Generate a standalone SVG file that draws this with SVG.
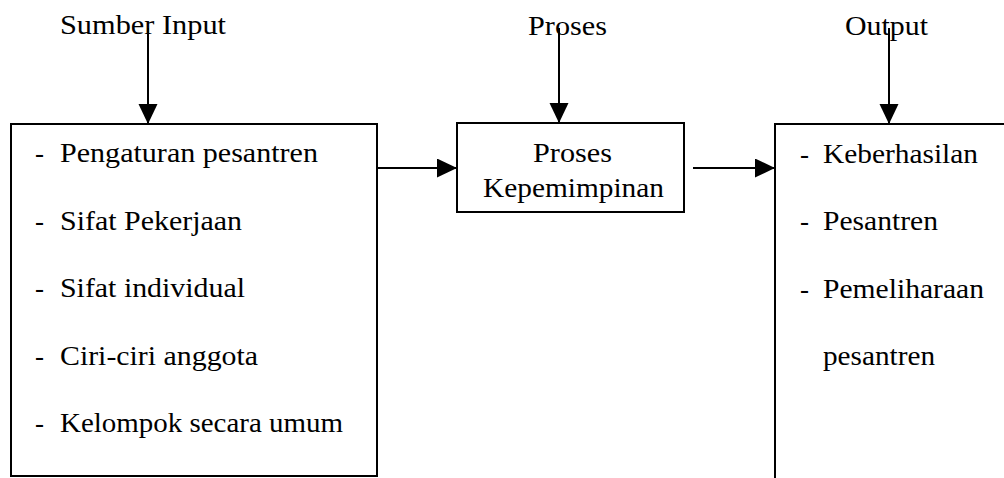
<svg xmlns="http://www.w3.org/2000/svg" width="1004" height="478" viewBox="0 0 1004 478">
  <style>
    .t { font-family: "Liberation Serif", "Times New Roman", serif; font-size: 27px; fill: #000; }
    .box { fill: #fff; stroke: #000; stroke-width: 2; }
    .edge { fill: none; stroke: #000; stroke-width: 2; }
  </style>
  <defs>
    <marker id="ah" markerUnits="userSpaceOnUse" markerWidth="20" markerHeight="20" refX="20" refY="9.5" orient="auto">
      <path d="M0,0 L20,9.5 L0,19 Z" fill="#000"/>
    </marker>
  </defs>
  <rect width="1004" height="478" fill="#fff"/>

  <g id="labels">
    <text class="t" x="60" y="34" textLength="166" lengthAdjust="spacingAndGlyphs">Sumber Input</text>
    <text class="t" x="528" y="35" textLength="79" lengthAdjust="spacingAndGlyphs">Proses</text>
    <text class="t" x="845" y="35" textLength="83" lengthAdjust="spacingAndGlyphs">Output</text>
  </g>

  <g id="node-input">
    <rect class="box" x="11" y="124" width="366" height="352"/>
    <text class="t" x="35" y="162">-</text>
    <text class="t" x="60" y="162" textLength="258" lengthAdjust="spacingAndGlyphs">Pengaturan pesantren</text>
    <text class="t" x="35" y="229.5">-</text>
    <text class="t" x="60" y="229.5" textLength="182" lengthAdjust="spacingAndGlyphs">Sifat Pekerjaan</text>
    <text class="t" x="35" y="297">-</text>
    <text class="t" x="60" y="297" textLength="185" lengthAdjust="spacingAndGlyphs">Sifat individual</text>
    <text class="t" x="35" y="364.5">-</text>
    <text class="t" x="60" y="364.5" textLength="198" lengthAdjust="spacingAndGlyphs">Ciri-ciri anggota</text>
    <text class="t" x="35" y="432">-</text>
    <text class="t" x="60" y="432" textLength="283" lengthAdjust="spacingAndGlyphs">Kelompok secara umum</text>
  </g>

  <g id="node-proses">
    <rect class="box" x="457" y="123" width="227" height="89"/>
    <text class="t" x="533" y="162" textLength="79" lengthAdjust="spacingAndGlyphs">Proses</text>
    <text class="t" x="483" y="197" textLength="181" lengthAdjust="spacingAndGlyphs">Kepemimpinan</text>
  </g>

  <g id="node-output">
    <path class="edge" d="M775,480 V124 H1006"/>
    <text class="t" x="800" y="163">-</text>
    <text class="t" x="823" y="163" textLength="155" lengthAdjust="spacingAndGlyphs">Keberhasilan</text>
    <text class="t" x="800" y="230">-</text>
    <text class="t" x="823" y="230" textLength="115" lengthAdjust="spacingAndGlyphs">Pesantren</text>
    <text class="t" x="800" y="297.5">-</text>
    <text class="t" x="823" y="297.5" textLength="161" lengthAdjust="spacingAndGlyphs">Pemeliharaan</text>
    <text class="t" x="823" y="365" textLength="112" lengthAdjust="spacingAndGlyphs">pesantren</text>
  </g>

  <g id="connectors">
    <line class="edge" x1="148" y1="28" x2="148" y2="124" marker-end="url(#ah)"/>
    <line class="edge" x1="559" y1="28" x2="559" y2="123" marker-end="url(#ah)"/>
    <line class="edge" x1="889" y1="28" x2="889" y2="124" marker-end="url(#ah)"/>
    <line class="edge" x1="378" y1="168" x2="457" y2="168" marker-end="url(#ah)"/>
    <line class="edge" x1="693" y1="168" x2="775" y2="168" marker-end="url(#ah)"/>
  </g>
</svg>
